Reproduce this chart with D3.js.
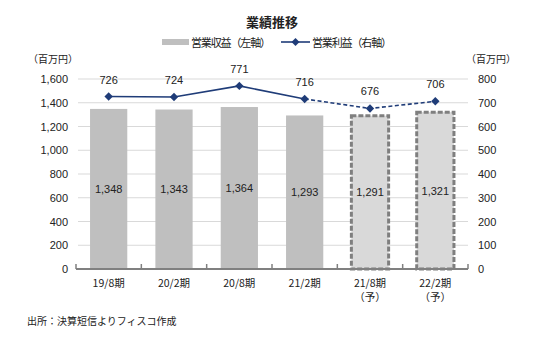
<!DOCTYPE html>
<html><head><meta charset="utf-8">
<script src="https://cdn.jsdelivr.net/npm/d3@7"></script>
<style>
body{margin:0;background:#fff;}
text{font-family:"Liberation Sans","Noto Sans CJK JP",sans-serif;fill:#222;}
.jp{font-family:"Noto Sans CJK JP",sans-serif;}
</style></head>
<body><svg id="c" width="544" height="361"></svg>
<script>
const categories = ["19/8期","20/2期","20/8期","21/2期","21/8期","22/2期"];
const subLabels = ["","","","","（予）","（予）"];
const revenue = [1348,1343,1364,1293,1291,1321];
const profit = [726,724,771,716,676,706];
const forecast = [false,false,false,false,true,true];
const leftTicks = [0,200,400,600,800,1000,1200,1400,1600];
const rightTicks = [0,100,200,300,400,500,600,700,800];

const svg = d3.select("#c");
const L = 76, R = 468, T = 79, B = 269;
const x = d3.scaleBand().domain(categories).range([L, R]).paddingInner(0.43).paddingOuter(0.215);
const yL = d3.scaleLinear().domain([0,1600]).range([B,T]);
const yR = d3.scaleLinear().domain([0,800]).range([B,T]);
const fmt = d3.format(",");

// gridlines
svg.append("g").selectAll("line").data(leftTicks.filter(d=>d>0)).join("line")
  .attr("x1",L+2).attr("x2",R).attr("y1",d=>yL(d)).attr("y2",d=>yL(d))
  .attr("stroke","#d9d9d9").attr("stroke-width",1);

// axis labels
const gl = svg.append("g").attr("transform",`translate(${L},0)`)
  .call(d3.axisLeft(yL).tickValues(leftTicks).tickFormat(fmt).tickSize(0).tickPadding(8));
gl.select(".domain").remove();
gl.selectAll("text").attr("font-size",11).attr("fill","#222").style("font-family","Liberation Sans");
const gr = svg.append("g").attr("transform",`translate(${R},0)`)
  .call(d3.axisRight(yR).tickValues(rightTicks).tickSize(0).tickPadding(10));
gr.select(".domain").remove();
gr.selectAll("text").attr("font-size",11).attr("fill","#222").style("font-family","Liberation Sans");

// bars
svg.append("g").selectAll("rect").data(categories).join("rect")
  .attr("x",d=>x(d)).attr("width",x.bandwidth())
  .attr("y",(d,i)=>yL(revenue[i])).attr("height",(d,i)=>B-yL(revenue[i]))
  .attr("fill",(d,i)=>forecast[i]?"#d9d9d9":"#bfbfbf")
  .attr("stroke",(d,i)=>forecast[i]?"#7f7f7f":"none")
  .attr("stroke-width",3).attr("stroke-dasharray","5,2");

// bar labels
svg.append("g").selectAll("text").data(categories).join("text")
  .attr("x",d=>x(d)+x.bandwidth()/2).attr("y",(d,i)=>yL(revenue[i]/2)+4)
  .attr("text-anchor","middle").attr("font-size",11).text((d,i)=>fmt(revenue[i]));

// x axis
const gx = svg.append("g").attr("transform",`translate(0,${B})`);
gx.append("line").attr("x1",L).attr("x2",R).attr("stroke","#808080").attr("stroke-width",2);
const tickX = [L, ...categories.map(d=>x(d)+x.bandwidth()/2+x.step()/2)];
gx.selectAll("line.t").data(tickX).join("line").attr("class","t")
  .attr("x1",d=>d).attr("x2",d=>d).attr("y1",0).attr("y2",-5).attr("stroke","#808080").attr("stroke-width",1.5);
gx.selectAll("text.c").data(categories).join("text").attr("class","c jp")
  .attr("x",d=>x(d)+x.bandwidth()/2).attr("y",18).attr("text-anchor","middle").attr("font-size",10.5).text(d=>d);
gx.selectAll("text.s").data(categories).join("text").attr("class","s jp")
  .attr("x",d=>x(d)+x.bandwidth()/2).attr("y",32).attr("text-anchor","middle").attr("font-size",10.5).text((d,i)=>subLabels[i]);

// line
const pts = categories.map((d,i)=>[x(d)+x.bandwidth()/2, yR(profit[i])]);
const lineColor = "#1f3c78";
svg.append("path").attr("d",d3.line()(pts.slice(0,4))).attr("fill","none").attr("stroke",lineColor).attr("stroke-width",1.6);
svg.append("path").attr("d",d3.line()(pts.slice(3))).attr("fill","none").attr("stroke",lineColor).attr("stroke-width",1.6).attr("stroke-dasharray","4,2.5");
svg.append("g").selectAll("path").data(pts).join("path")
  .attr("transform",d=>`translate(${d[0]},${d[1]})`)
  .attr("d",d3.symbol(d3.symbolDiamond2,45)).attr("fill",lineColor);
svg.append("g").selectAll("text").data(pts).join("text")
  .attr("x",d=>d[0]).attr("y",d=>d[1]-13).attr("text-anchor","middle").attr("font-size",11)
  .text((d,i)=>profit[i]);

// title & legend
svg.append("text").attr("class","jp").attr("x",272).attr("y",27).attr("text-anchor","middle")
  .attr("font-size",13).attr("font-weight","bold").text("業績推移");
svg.append("rect").attr("x",162).attr("y",39).attr("width",27).attr("height",6).attr("fill","#bfbfbf");
svg.append("text").attr("class","jp").attr("x",191).attr("y",46.5).attr("font-size",11).attr("textLength",80).text("営業収益（左軸）");
svg.append("line").attr("x1",281).attr("x2",310).attr("y1",42).attr("y2",42).attr("stroke",lineColor).attr("stroke-width",1.6);
svg.append("path").attr("transform","translate(295.5,42)").attr("d",d3.symbol(d3.symbolDiamond2,40)).attr("fill",lineColor);
svg.append("text").attr("class","jp").attr("x",312).attr("y",46.5).attr("font-size",11).attr("textLength",80).text("営業利益（右軸）");

// units
svg.append("text").attr("class","jp").attr("x",28).attr("y",63).attr("font-size",10).text("（百万円）");
svg.append("text").attr("class","jp").attr("x",466).attr("y",63).attr("font-size",10).text("（百万円）");

// footnote
svg.append("text").attr("class","jp").attr("x",27).attr("y",325).attr("font-size",10).text("出所：決算短信よりフィスコ作成");
</script></body></html>
